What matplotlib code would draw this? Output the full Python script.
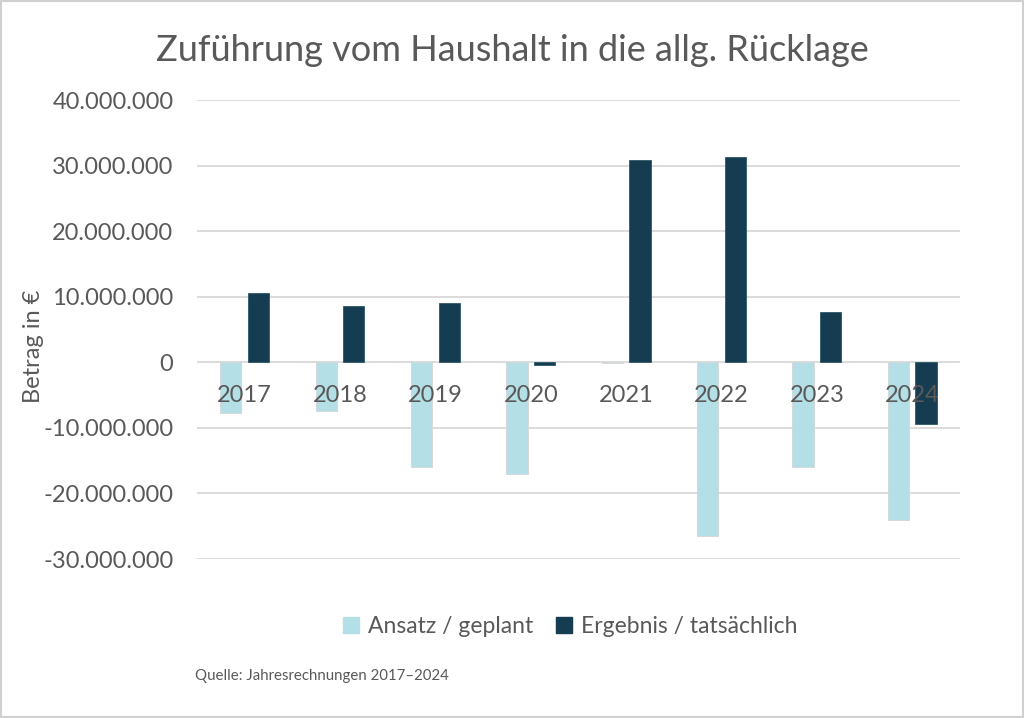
import numpy as np
import matplotlib
matplotlib.use("Agg")
import matplotlib.pyplot as plt
from matplotlib.patches import Patch
from matplotlib.ticker import FuncFormatter

plt.rcParams["font.family"] = ["Lato", "DejaVu Sans"]

YEARS = ["2017", "2018", "2019", "2020", "2021", "2022", "2023", "2024"]
ANSATZ = [-7.7e6, -7.4e6, -16.0e6, -17.0e6, -0.1e6, -26.5e6, -15.9e6, -24.1e6]
ERGEBNIS = [10.6e6, 8.6e6, 9.0e6, -0.4e6, 30.9e6, 31.3e6, 7.7e6, -9.4e6]

LIGHT = "#B4DFE6"
DARK = "#153C50"
TXT = "#595959"
GRID = "#D9D9D9"

fig = plt.figure(figsize=(10.24, 7.18), dpi=100)
fig.patches.append(plt.Rectangle((0, 0), 1, 1, transform=fig.transFigure,
                                 fill=False, edgecolor="#D0D0D0", linewidth=3))
ax = fig.add_axes([0.1924, 0.2214, 0.745, 0.639])

x = np.arange(len(YEARS))
w = 0.222
ax.bar(x - 0.145, ANSATZ, w, color=LIGHT, edgecolor="#D5D5D5", linewidth=0.6, zorder=2)
ax.bar(x + 0.145, ERGEBNIS, w, color=DARK, edgecolor="#2A5A66", linewidth=0.6, zorder=2)

ax.set_xlim(-0.5, len(YEARS) - 0.5)
ax.set_ylim(-30e6, 40e6)
ax.set_yticks(np.arange(-30e6, 40e6 + 1, 10e6))
ax.yaxis.set_major_formatter(FuncFormatter(lambda v, p: f"{v:,.0f}".replace(",", ".")))
ax.tick_params(axis="y", length=0, labelsize=17, labelcolor=TXT, pad=17)
ax.set_xticks([])
ax.grid(axis="y", color=GRID, linewidth=1.3, zorder=0)
ax.set_axisbelow(True)
for s in ax.spines.values():
    s.set_visible(False)

for i, yr in enumerate(YEARS):
    ax.annotate(yr, (i, 0), xytext=(0, -33), textcoords="offset pixels",
                ha="center", va="center", fontsize=17, color=TXT, zorder=3)

fig.text(0.033, 0.518, "Betrag in €", rotation=90, ha="center", va="center",
         fontsize=17, color=TXT)

fig.text(0.5, 0.93, "Zuführung vom Haushalt in die allg. Rücklage",
         ha="center", va="center", fontsize=26, color=TXT)

handles = [Patch(facecolor=LIGHT, edgecolor=LIGHT, label="Ansatz / geplant"),
           Patch(facecolor=DARK, edgecolor=DARK, label="Ergebnis / tatsächlich")]
leg = fig.legend(handles=handles, loc="center", bbox_to_anchor=(0.557, 0.127),
                 ncol=2, frameon=False, fontsize=16.5, handlelength=0.7,
                 handleheight=0.7, handletextpad=0.4, columnspacing=1.0)
for t in leg.get_texts():
    t.set_color(TXT)

fig.text(0.19, 0.058, "Quelle: Jahresrechnungen 2017–2024",
         ha="left", va="center", fontsize=10.8, color=TXT)

fig.savefig("out.png", dpi=100)
